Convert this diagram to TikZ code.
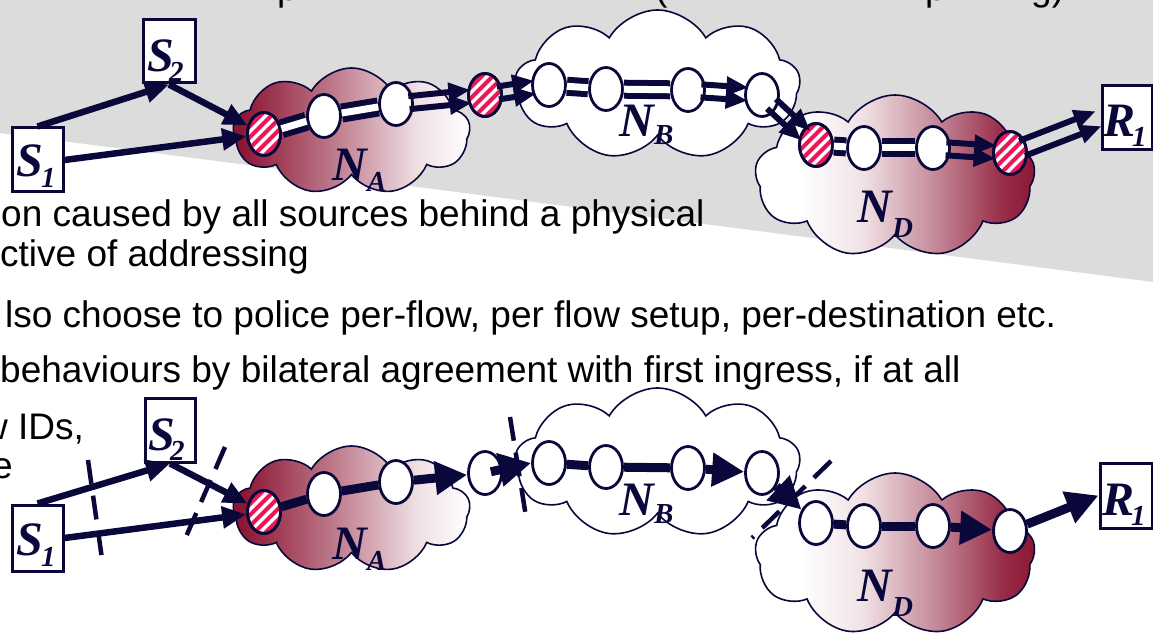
\documentclass[tikz,border=0pt]{standalone}
\usepackage{fontspec}
\setmainfont{Liberation Sans}
\newfontfamily\tnr{Liberation Serif}
\usetikzlibrary{shapes.symbols,shapes.geometric,arrows.meta,calc}
\definecolor{navy}{RGB}{10,8,58}
\definecolor{bggrey}{RGB}{220,220,220}
\definecolor{maroon}{RGB}{140,22,52}
\definecolor{stripered}{RGB}{236,22,88}
\colorlet{mA1}{maroon!60!white}
\colorlet{mA2}{maroon!13!white}
\colorlet{mD1}{maroon!12!white}
\colorlet{mD2}{maroon!50!white}
\colorlet{mD3}{maroon!90!white}
\pgfdeclarehorizontalshading{shadeA}{100bp}{color(0bp)=(maroon); color(27bp)=(maroon); color(45bp)=(mA1); color(64bp)=(mA2); color(75bp)=(white); color(100bp)=(white)}
\pgfdeclarehorizontalshading{shadeD}{100bp}{color(0bp)=(white); color(33bp)=(white); color(44bp)=(mD1); color(57bp)=(mD2); color(69bp)=(mD3); color(75bp)=(maroon); color(100bp)=(maroon)}
\tikzset{
  cloudbase/.style={cloud, cloud puffs=9, cloud puff arc=120, cloud ignores aspect, inner sep=0pt, draw=navy, line width=1.6pt},
  nd/.style={ellipse, draw=navy, line width=2.8pt, fill=white, minimum width=33pt, minimum height=43pt, inner sep=0pt},
  sbox/.style={rectangle, draw=navy, line width=3pt, fill=white, inner sep=0pt},
  txt/.style={anchor=base west, inner sep=0pt, font=\fontsize{37}{40}\selectfont, text=black},
  bigl/.style={anchor=base west, inner sep=0pt, text=navy, font=\tnr\bfseries\itshape\fontsize{48}{48}\selectfont},
  subl/.style={anchor=base west, inner sep=0pt, text=navy, font=\tnr\bfseries\itshape\fontsize{29}{29}\selectfont},
  sarrow/.style={draw=navy, line width=6.5pt, -{Triangle[length=24pt,width=21pt]}},
  dline/.style={draw=navy, line width=6pt, double=white, double distance=7pt},
  tarrow/.style={draw=navy, line width=6pt, -{Triangle[length=22pt,width=18pt]}, shorten <=13pt, shorten >=14pt},
  bline/.style={draw=navy, line width=9pt},
  barrow/.style={draw=navy, line width=9pt, -{Triangle[length=32pt,width=32pt]}},
  cutline/.style={draw=navy, line width=4.5pt, dash pattern=on 24pt off 12pt},
}
\newcommand\stripefill[1]{%
  \begin{scope}
    \clip (#1.center) ellipse [x radius=15.5pt, y radius=20.5pt];
    \foreach \k in {-55,-44,...,55} {
      \draw[stripered, line width=4.2pt] ($(#1.center)+(\k-30,30)$) -- ($(#1.center)+(\k+30,-30)$);
    }
  \end{scope}
  \draw[navy, line width=2.8pt] (#1.center) ellipse [x radius=16.5pt, y radius=21.5pt];
}
\newcommand\twin[3][6.5pt]{%
  \draw[tarrow] ($(#2.center)!#1!90:(#3.center)$) -- ($(#3.center)!#1!-90:(#2.center)$);
  \draw[tarrow] ($(#2.center)!#1!-90:(#3.center)$) -- ($(#3.center)!#1!90:(#2.center)$);
}
\begin{document}
\begin{tikzpicture}[x=1pt,y=-1pt]
\useasboundingbox (0,0) rectangle (1153,636);
\clip (0,0) rectangle (1153,636);
\fill[bggrey] (0,0) -- (1153,0) -- (1153,282) -- (0,133) -- cycle;

% top text fragments (descenders of a line above)
\node[txt] (frag1) at (277,1) {p};
\node[txt] (frag2) at (655,1) {(};
\node[txt] (frag3) at (925,1) {p};
\node[txt] (frag4) at (1031,1) {g)};

% clouds top
\node[cloudbase, minimum width=237pt, minimum height=127pt, shading=shadeA] (cA) at (351.5,131.5) {};
\node[cloudbase, minimum width=285pt, minimum height=150pt, fill=white] (cB) at (657.5,85) {};
\node[cloudbase, minimum width=280pt, minimum height=163pt, shading=shadeD] (cD) at (895,176.5) {};
% clouds bottom
\node[cloudbase, minimum width=237pt, minimum height=127pt, shading=shadeA] (dA) at (351.5,509.5) {};
\node[cloudbase, minimum width=285pt, minimum height=150pt, fill=white] (dB) at (657.5,463) {};
\node[cloudbase, minimum width=280pt, minimum height=163pt, shading=shadeD] (dD) at (895,554.5) {};

% body text
\node[txt] (l1) at (1,227) {on caused by all sources behind a physical};
\node[txt] (l2) at (0,266) {ctive of addressing};
\node[txt] (l3) at (5,327) {lso choose to police per-flow, per flow setup, per-destination etc.};
\node[txt] (l4) at (0,382) {behaviours by bilateral agreement with first ingress, if at all};
\node[txt] (l5) at (-19,439) {w IDs,};
\node[txt] (l6) at (-8,478) {e};

% cut lines
\coordinate (c1a) at (88,460); \coordinate (c1b) at (103,566);
\coordinate (c2a) at (225,447); \coordinate (c2b) at (182,546);
\coordinate (c3a) at (510,417); \coordinate (c3b) at (527,523);
\coordinate (c4a) at (831,461); \coordinate (c4b) at (752,538);
\draw[cutline] (c1a) -- (c1b);
\draw[cutline] (c2a) -- (c2b);
\draw[cutline] (c3a) -- (c3b);
\draw[cutline] (c4a) -- (c4b);

% ---------- top diagram ----------
\node[sbox, minimum width=51pt, minimum height=64pt] (tS1) at (37.5,160) {};
\node[sbox, minimum width=52pt, minimum height=63pt] (tS2) at (169,51.5) {};
\node[sbox, minimum width=50pt, minimum height=64pt] (tR1) at (1127,118) {};
\node[nd] (tA1) at (264,134) {};
\node[nd] (tA2) at (324,116) {};
\node[nd] (tA3) at (396,104) {};
\node[nd] (tA4) at (485,95) {};
\node[nd] (tB1) at (549,85) {};
\node[nd] (tB2) at (606,89) {};
\node[nd] (tB3) at (688,90) {};
\node[nd] (tB4) at (762,95) {};
\node[nd] (tD1) at (816,145) {};
\node[nd] (tD2) at (864,148) {};
\node[nd] (tD3) at (933,148) {};
\node[nd] (tD4) at (1010,153) {};
\stripefill{tA1}\stripefill{tA4}\stripefill{tD1}\stripefill{tD4}

\draw[sarrow] (tS1.north) -- (tS2.south);
\draw[sarrow] (tS2.south) -- (tA1);
\draw[sarrow] (tS1.east) -- (tA1);
\draw[dline] (tA1) -- (tA2);
\draw[dline] (tA2) -- (tA3);
\twin{tA3}{tA4}
\twin{tA4}{tB1}
\draw[dline] (tB1) -- (tB2);
\draw[dline] (tB2) -- (tB3);
\twin{tB3}{tB4}
\twin{tB4}{tD1}
\draw[dline] (tD1) -- (tD2);
\draw[dline] (tD2) -- (tD3);
\twin{tD3}{tD4}
\draw[tarrow, shorten >=2pt] ($(tD4.center)!8pt!90:(tR1.west)$) -- ($(tR1.west)!8pt!-90:(tD4.center)$);
\draw[tarrow, shorten >=2pt] ($(tD4.center)!8pt!-90:(tR1.west)$) -- ($(tR1.west)!8pt!90:(tD4.center)$);

% ---------- bottom diagram ----------
\node[sbox, minimum width=51pt, minimum height=66pt] (bS1) at (37.5,538) {};
\node[sbox, minimum width=50pt, minimum height=64pt] (bS2) at (170,430) {};
\node[sbox, minimum width=52pt, minimum height=65pt] (bR1) at (1126,495.5) {};
\node[nd] (bA1) at (264,512) {};
\node[nd] (bA2) at (324,494) {};
\node[nd] (bA3) at (396,482) {};
\node[nd] (bA4) at (485,473) {};
\node[nd] (bB1) at (549,463) {};
\node[nd] (bB2) at (606,467) {};
\node[nd] (bB3) at (688,468) {};
\node[nd] (bB4) at (762,473) {};
\node[nd] (bD1) at (816,523) {};
\node[nd] (bD2) at (864,526) {};
\node[nd] (bD3) at (933,526) {};
\node[nd] (bD4) at (1010,531) {};
\stripefill{bA1}

\draw[sarrow] (bS1.north) -- (bS2.south);
\draw[sarrow] (bS2.south) -- (bA1);
\draw[sarrow] (bS1.east) -- (bA1);
\draw[bline] (bA1) -- (bA2);
\draw[bline] (bA2) -- (bA3);
\draw[barrow] (bA3) -- (bA4);
\draw[barrow, shorten <=6pt] (bA4.center) -- (bB1.west);
\draw[bline] (bB1) -- (bB2);
\draw[bline] (bB2) -- (bB3);
\draw[barrow] (bB3) -- (bB4);
\draw[barrow] (bB4) -- (bD1);
\draw[bline] (bD1) -- (bD2);
\draw[bline] (bD2) -- (bD3);
\draw[barrow] (bD3) -- (bD4);
\draw[barrow] (bD4) -- (bR1.west);

% ---------- labels ----------
\node[bigl] (tS2l) at (147,72) {S};  \node[subl] (tS2s) at (169,82) {2};
\node[bigl] (tS1l) at (16,177) {S};  \node[subl] (tS1s) at (41,188) {1};
\node[bigl] (tR1l) at (1103,137) {R}; \node[subl] (tR1s) at (1132,147) {1};
\node[bigl] (bS2l) at (148,450) {S};  \node[subl] (bS2s) at (170,460) {2};
\node[bigl] (bS1l) at (16,555) {S};  \node[subl] (bS1s) at (41,566) {1};
\node[bigl] (bR1l) at (1102,515) {R}; \node[subl] (bR1s) at (1131,525) {1};

\node[bigl] (tNA) at (332,181) {N}; \node[subl] (tNAs) at (367,192) {A};
\node[bigl] (tNB) at (619,137) {N}; \node[subl] (tNBs) at (654,145) {B};
\node[bigl] (tND) at (857,223) {N}; \node[subl] (tNDs) at (892,238) {D};
\node[bigl] (bNA) at (332,559) {N}; \node[subl] (bNAs) at (367,570) {A};
\node[bigl] (bNB) at (619,515) {N}; \node[subl] (bNBs) at (654,523) {B};
\node[bigl] (bND) at (857,601) {N}; \node[subl] (bNDs) at (892,616) {D};
\end{tikzpicture}
\end{document}
